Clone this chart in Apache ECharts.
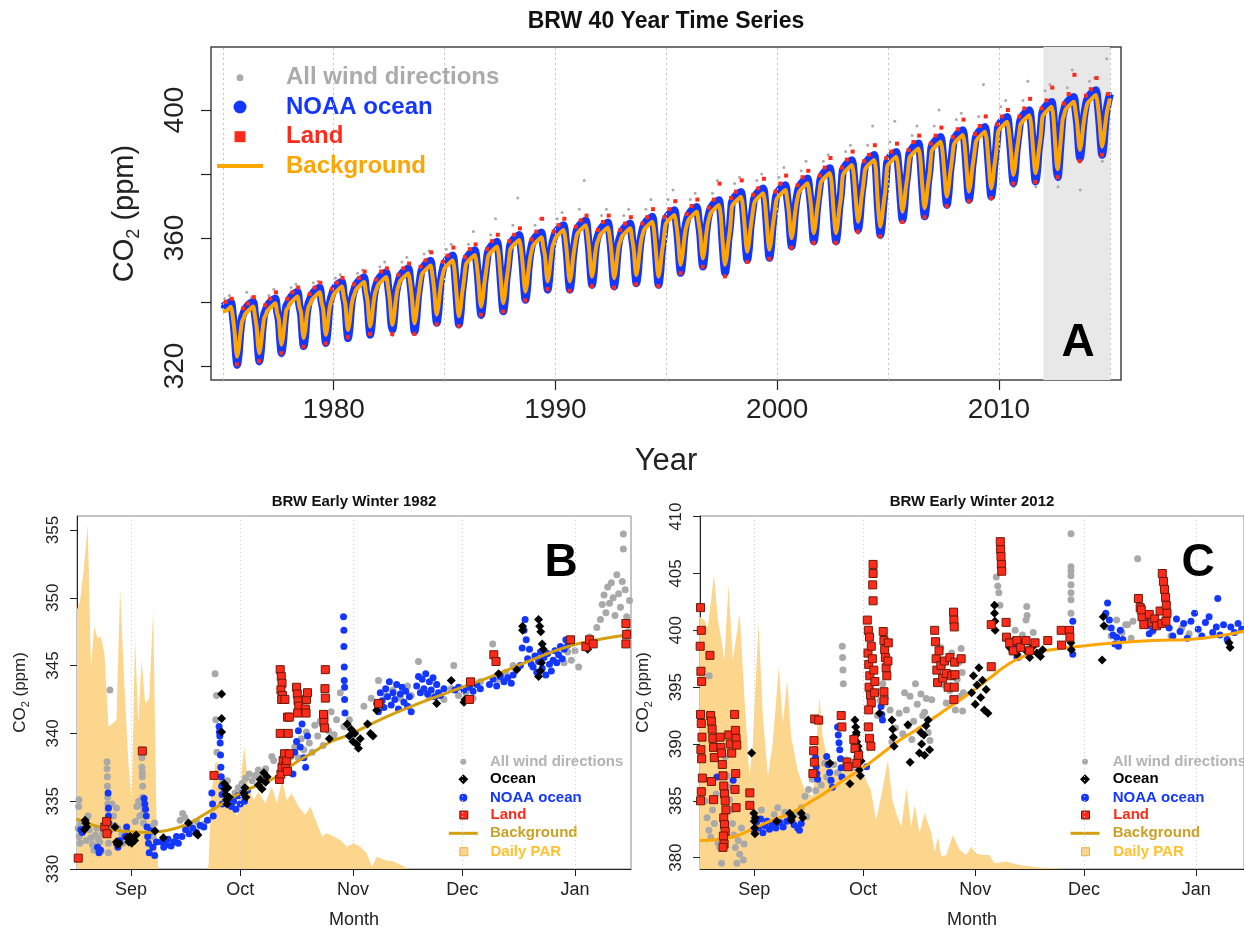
<!DOCTYPE html>
<html><head><meta charset="utf-8">
<script src="https://cdn.jsdelivr.net/npm/echarts@6/dist/echarts.min.js"></script>
<style>html,body{margin:0;padding:0;background:#fff}#c{width:1244px;height:930px}</style>
</head><body><div id="c"></div>
<script>
const FONT = "'Liberation Sans', Arial, Helvetica, sans-serif";

// ---------- Panel A: 40-year series ----------
const years = [1975,1976,1977,1978,1979,1980,1981,1982,1983,1984,1985,1986,1987,1988,1989,1990,1991,1992,1993,1994,1995,1996,1997,1998,1999,2000,2001,2002,2003,2004,2005,2006,2007,2008,2009,2010,2011,2012,2013,2014,2015];
const xTicksTop = [1980, 1990, 2000, 2010];
const xGridTop = [1975, 1980, 1985, 1990, 1995, 2000, 2005, 2010, 2015];
const yTicksTop = [320, 340, 360, 380, 400];
const yLabelsTop = [320, 360, 400];
const shadeYears = [2012, 2015];

// fraction-of-year positions of the values listed for each year
const bgPhase = [0.0, 0.17, 0.37, 0.45, 0.53, 0.6, 0.65, 0.72, 0.79, 0.87, 0.95];
const backgroundTop = [
[337.0,337.3,338.5,335.5,330.9,324.9,322.9,325.4,329.9,333.9,335.1],
[336.1,337.4,338.6,335.6,332.0,326.0,324.0,326.5,331.0,335.0,336.1],
[337.1,338.4,339.6,336.6,334.6,328.6,326.6,329.1,333.6,337.6,338.2],
[339.2,340.5,341.7,338.7,336.7,330.7,328.7,331.2,335.7,338.5,339.5],
[340.5,341.8,343.0,340.0,337.7,331.7,329.7,332.2,336.7,339.8,341.3],
[342.3,343.6,344.8,341.8,339.2,333.2,331.2,333.7,338.2,341.2,342.7],
[343.7,345.0,346.2,343.2,340.3,334.3,332.3,334.8,339.3,342.8,344.3],
[345.3,346.6,347.8,344.8,340.8,334.8,332.8,335.3,339.8,343.8,345.5],
[346.5,347.8,349.0,346.0,341.3,335.3,333.3,335.8,340.3,344.3,347.9],
[348.9,350.2,351.4,348.4,344.0,338.0,336.0,338.5,343.0,347.0,349.5],
[350.5,351.8,353.0,350.0,343.5,337.5,335.5,338.0,342.5,346.5,351.2],
[352.2,353.5,354.7,351.7,346.5,340.5,338.5,341.0,345.5,349.5,353.8],
[354.8,356.1,357.3,354.3,347.6,341.6,339.6,342.1,346.6,350.6,355.9],
[356.9,358.2,359.4,356.4,351.2,345.2,343.2,345.7,350.2,354.2,356.7],
[357.7,359.0,360.2,357.2,354.4,348.4,346.4,348.9,353.4,357.4,359.0],
[360.0,361.3,362.5,359.5,354.4,348.4,346.4,348.9,353.4,357.4,360.5],
[361.5,362.8,364.0,361.0,355.9,349.9,347.9,350.4,354.9,358.3,359.8],
[360.8,362.1,363.3,360.3,355.4,349.4,347.4,349.9,354.4,358.0,359.5],
[360.5,361.8,363.0,360.0,356.4,350.4,348.4,350.9,355.4,359.4,361.6],
[362.6,363.9,365.1,362.1,355.9,349.9,347.9,350.4,354.9,358.9,363.7],
[364.7,366.0,367.2,364.2,359.6,353.6,351.6,354.1,358.6,362.6,364.7],
[365.7,367.0,368.2,365.2,361.6,355.6,353.6,356.1,360.6,364.6,366.8],
[367.8,369.1,370.3,367.3,359.6,353.6,351.6,354.1,358.6,362.6,369.4],
[370.4,371.7,372.9,369.9,363.7,357.7,355.7,358.2,362.7,366.7,370.5],
[371.5,372.8,374.0,371.0,364.3,358.3,356.3,358.8,363.3,367.3,371.5],
[372.5,373.8,375.0,372.0,367.9,361.9,359.9,362.4,366.9,370.9,373.6],
[374.6,375.9,377.1,374.1,369.5,363.5,361.5,364.0,368.5,372.5,376.8],
[377.8,379.1,380.3,377.3,369.5,363.5,361.5,364.0,368.5,372.5,379.3],
[380.3,381.6,382.8,379.8,373.1,367.1,365.1,367.6,372.1,376.1,380.9],
[381.9,383.2,384.4,381.4,371.5,365.5,363.5,366.0,370.5,374.5,381.9],
[382.9,384.2,385.4,382.4,376.2,370.2,368.2,370.7,375.2,379.2,384.5],
[385.5,386.8,388.0,385.0,377.3,371.3,369.3,371.8,376.3,380.3,386.6],
[387.6,388.9,390.1,387.1,380.9,374.9,372.9,375.4,379.9,383.9,388.7],
[389.7,391.0,392.2,389.2,382.5,376.5,374.5,377.0,381.5,385.5,389.7],
[390.7,392.0,393.2,390.2,383.5,377.5,375.5,378.0,382.5,386.5,392.8],
[393.8,395.1,396.3,393.3,387.7,381.7,379.7,382.2,386.7,390.7,394.9],
[395.9,397.2,398.4,395.4,388.2,382.2,380.2,382.7,387.2,391.2,397.5],
[398.5,399.8,401.0,398.0,389.8,383.0,381.5,385.8,391.0,397.0,398.9],
[400.1,401.4,402.6,399.6,395.5,389.5,387.5,390.0,394.5,398.5,401.2],
[402.2,403.5,404.7,401.7,396.5,390.5,388.5,391.0,395.5,399.5,402.0],
[403.5]
];
const noaaTop = [
[338.5,339.1,340.0,336.0,330.4,323.4,320.4,323.9,330.4,335.1,336.6],
[337.6,339.2,340.1,336.1,331.5,324.5,321.5,325.0,331.5,336.2,337.6],
[338.6,340.2,341.1,337.1,334.1,327.1,324.1,327.6,334.1,338.8,339.7],
[340.7,342.3,343.2,339.2,336.2,329.2,326.2,329.7,336.2,339.7,341.0],
[342.0,343.6,344.5,340.5,337.2,330.2,327.2,330.7,337.2,341.0,342.8],
[343.8,345.4,346.3,342.3,338.7,331.7,328.7,332.2,338.7,342.4,344.2],
[345.2,346.8,347.7,343.7,339.8,332.8,329.8,333.3,339.8,344.0,345.8],
[346.8,348.4,349.3,345.3,340.3,333.3,331.3,334.8,341.3,345.0,347.0],
[348.0,349.6,350.5,346.5,340.8,333.8,330.8,334.3,340.8,345.5,349.4],
[350.4,352.0,352.9,348.9,343.5,336.5,333.5,337.0,343.5,348.2,351.0],
[352.0,353.6,354.5,350.5,343.0,336.0,333.0,336.5,343.0,347.7,352.7],
[353.7,355.3,356.2,352.2,346.0,339.0,336.0,339.5,346.0,350.7,355.3],
[356.3,357.9,358.8,354.8,347.1,340.1,337.1,340.6,347.1,351.8,357.4],
[358.4,360.0,360.9,356.9,350.7,343.7,340.7,344.2,350.7,355.4,358.2],
[359.2,360.8,361.7,357.7,353.9,346.9,343.9,347.4,353.9,358.6,360.5],
[361.5,363.1,364.0,360.0,353.9,346.9,343.9,347.4,353.9,358.6,362.0],
[363.0,364.6,365.5,361.5,355.4,348.4,345.4,348.9,355.4,359.5,361.3],
[362.3,363.9,364.8,360.8,354.9,347.9,344.9,348.4,354.9,359.2,361.0],
[362.0,363.6,364.5,360.5,355.9,348.9,345.9,349.4,355.9,360.6,363.1],
[364.1,365.7,366.6,362.6,355.4,348.4,345.4,348.9,355.4,360.1,365.2],
[366.2,367.8,368.7,364.7,359.1,352.1,349.1,352.6,359.1,363.8,366.2],
[367.2,368.8,369.7,365.7,361.1,354.1,351.1,354.6,361.1,365.8,368.3],
[369.3,370.9,371.8,367.8,359.1,352.1,349.1,352.6,359.1,363.8,370.9],
[371.9,373.5,374.4,370.4,363.2,356.2,353.2,356.7,363.2,367.9,372.0],
[373.0,374.6,375.5,371.5,363.8,356.8,353.8,357.3,363.8,368.5,373.0],
[374.0,375.6,376.5,372.5,367.4,360.4,357.4,360.9,367.4,372.1,375.1],
[376.1,377.7,378.6,374.6,369.0,362.0,359.0,362.5,369.0,373.7,378.3],
[379.3,380.9,381.8,377.8,369.0,362.0,359.0,362.5,369.0,373.7,380.8],
[381.8,383.4,384.3,380.3,372.6,365.6,362.6,366.1,372.6,377.3,382.4],
[383.4,385.0,385.9,381.9,371.0,364.0,361.0,364.5,371.0,375.7,383.4],
[384.4,386.0,386.9,382.9,375.7,368.7,365.7,369.2,375.7,380.4,386.0],
[387.0,388.6,389.5,385.5,376.8,369.8,366.8,370.3,376.8,381.5,388.1],
[389.1,390.7,391.6,387.6,380.4,373.4,370.4,373.9,380.4,385.1,390.2],
[391.2,392.8,393.7,389.7,382.0,375.0,372.0,375.5,382.0,386.7,391.2],
[392.2,393.8,394.7,390.7,383.0,376.0,373.0,376.5,383.0,387.7,394.3],
[395.3,396.9,397.8,393.8,387.2,380.2,377.2,380.7,387.2,391.9,396.4],
[397.4,399.0,399.9,395.9,387.7,380.7,377.7,381.2,387.7,392.4,399.0],
[400.0,401.6,402.5,398.5,389.3,381.5,379.0,384.3,391.5,398.2,400.4],
[401.6,403.2,404.1,400.1,395.0,388.0,385.0,388.5,395.0,399.7,402.7],
[403.7,405.3,406.2,402.2,396.0,389.0,386.0,389.5,396.0,400.7,403.5],
[405.0]
];
const grayPhase = [0.08, 0.3, 0.66, 0.86];
const allWindTop = [
[341,342,319.5,337],[343,341.5,320.5,338],[342,344,323,340],[344.5,345.5,325.5,342],[346,346.5,326.5,343.5],
[347.5,348.5,328,345],[349,350,329,346.5],[351,352.5,329.5,347],[352.5,354,330,348],[355,356,333,350],
[356.5,358,332,352.5],[358,362,335,353],[361,366,336.5,355],[364,372.5,340,358],[364,366,343,361],
[366,368,343,361.5],[369,378,344.5,362],[367,369,344,362],[367,369,345,363],[369,372,344.5,363],
[372,375,348.5,366],[372,374,350.5,368],[374,378,348.5,367],[377,379,352.5,370],[378,380,353,371],
[379,382,356.5,374],[381,384,358,376],[384,386,358,377],[387,389,361.5,380],[389,395,360,379],
[390,396.5,365,383],[392,395,366,385],[395,400,369.5,388],[397,399,371,390],[398,408,372,391],
[401,403,376,394],[403,409,376,396],[406,408,376,398],[407,412.5,375,402],[409,410,384,416]
];
const redPhase = [0.14, 0.4, 0.64, 0.92];
const landTop = [
[340,341,320.5,338],[339.5,341.5,321.5,339],[341,343,324,341],[343,344.5,326,342.5],[344.5,346,327,344],
[346,347.5,329,345.5],[347.5,349.5,330,347],[349.5,350.5,330,348.5],[350.5,352,330,351],[353,355.5,333,352.5],
[354.5,357,332.5,354],[356.5,358,336,356.5],[359,361,337,359],[361,363,340.5,359.5],[362,366,344,362],
[364,366,343.5,363.5],[365.5,367,345,362.5],[365,367,344.5,362.5],[364.5,366.5,345.5,364.5],[366.5,369,345,366.5],
[369,371.5,349,367.5],[370,372,351,369.5],[372,377,348,372.5],[374.5,378,352.5,373.5],[375.5,378.5,353.5,374.5],
[377,379.5,357,376.5],[379,381,358.5,379.5],[382,385,358.5,382],[384.5,387,362,384],[386,389,360.5,385],
[387,389.5,365,387.5],[390,392,366.5,389.5],[392,394.5,370,391.5],[394,397,371.5,392.5],[395,398,372.5,395.5],
[398,400,377,398],[400.5,403.5,377.5,400.5],[403,407,379,402],[405,411,384,404.5],[406.5,410,386,405]
];

// ---------- Panels B and C: days from 1 September ----------
const monthTicks = [0, 30, 61, 91, 122];
const monthLabels = ['Sep', 'Oct', 'Nov', 'Dec', 'Jan'];
const yTicksB = [330, 335, 340, 345, 350, 355];
const yTicksC = [380, 385, 390, 395, 400, 405, 410];

const parB = [[-15,73],[-14,76],[-13,85],[-11.9,97.5],[-11,57],[-10.1,68.6],[-9.2,65.4],[-8.3,65.8],[-7.3,61],[-6.2,40.3],[-5.1,41.2],[-4,42.2],[-3,79.5],[-1.8,51.6],[-0.7,29.9],[0.2,19.5],[1.1,65.8],[2,41.2],[2.9,59.2],[3.9,46.9],[5,48.3],[6.1,73.4],[7.1,8],[7.5,0],[21,0],[21.3,1],[22,20],[23.1,29.9],[24,30.4],[24.9,26],[26.3,23.3],[28.2,16.7],[29.3,14.8],[30,23.3],[31.1,34.7],[32.3,23.3],[33.7,19.5],[35,21.9],[36.9,18.6],[38.7,23.3],[40.1,18.6],[41.5,25.2],[42.8,19.5],[44.2,21.4],[46,17.7],[47.9,15.3],[49.3,17.7],[51.1,12.9],[52.5,9.2],[53.8,10.1],[55.7,9.2],[57.5,8.2],[59.3,6.3],[61.2,7.3],[63,6.3],[64.8,4.4],[66.2,0.7],[67.6,3.5],[69.9,2.5],[72.2,2.1],[75,0.7],[76,0],[137.5,0]];
const parC = [[-15,71.5],[-13.7,70.5],[-12.8,68.2],[-11.1,83.3],[-10,70.5],[-9.1,65.3],[-8.2,59.2],[-7.1,80.5],[-5.9,59.2],[-4,72.4],[-2.7,48.8],[-1.3,26.2],[-0.4,35.6],[1.2,69.6],[2.4,43.2],[3.8,26.2],[5.1,35.6],[6.8,57.3],[7.9,41.3],[9.1,53.5],[10.2,37.5],[12,28],[13.9,22.4],[16.2,20.5],[18,48.8],[18.9,37.5],[20.3,30.9],[23,26.2],[24.9,29.9],[26.7,28],[28.6,27.1],[30.4,26.2],[32.2,22.4],[33.6,13.9],[35,20.5],[36.9,30.9],[38.1,19.5],[39.2,15.8],[40.6,12],[42,22.9],[43.3,12],[44.3,18.1],[45.6,10.1],[47,15.8],[48.9,10.1],[49.8,4.9],[50.7,9.2],[51.6,3.5],[53,4],[54.8,9.6],[56.7,5.4],[58.5,4],[59.9,6.3],[61.2,4.4],[63.1,4],[64.9,4],[66.3,1.6],[69.5,2.1],[73.2,1.1],[77.8,0.5],[83.3,0.2],[86,0],[136,0]];

const backgroundB = [[-15,333.7],[-10,333.2],[-5,332.9],[0,332.75],[5,332.7],[10,332.85],[15,333.25],[20,334.0],[25,334.8],[30,335.6],[35,336.2],[40,336.8],[45,337.8],[50,338.6],[55,339.4],[60,339.9],[70,341.2],[80,342.3],[90,343.3],[100,344.3],[110,345.4],[120,346.4],[130,347.0],[137.5,347.3]];
const backgroundC = [[-15,381.5],[-10,381.6],[-5,381.9],[0,382.6],[5,383.3],[10,383.9],[15,384.8],[20,385.8],[25,386.9],[30,387.9],[35,389.1],[40,390.3],[45,391.3],[50,392.4],[55,393.5],[60,394.6],[65,395.8],[70,397.0],[75,397.8],[80,398.2],[90,398.6],[100,398.9],[110,399.1],[120,399.2],[130,399.6],[136,400.0]];

const allWindB = [[-14.5,333],[-14.4,334.6],[-14.3,335.1],[-14.2,332.4],[-14,331.9],[-13.8,333.4],[-13.5,332.8],[-13,333.2],[-12.3,332.1],[-11.8,333.9],[-11.5,332.9],[-11,332.3],[-10.6,331.8],[-10.2,331.4],[-9.8,332.5],[-9.4,333.0],[-9,332.2],[-8.6,332.0],[-8.2,331.3],[-7.8,332.6],
[-6.6,337.9],[-6.6,337.4],[-6.5,336.8],[-6.5,336.1],[-6.4,335.3],[-6.4,334.8],[-6.3,334.4],[-6.3,333.1],[-6.2,331.9],[-6.2,331.2],[-5.8,343.2],
[-5.2,334.8],[-4.8,333.9],[-4.4,333.2],[-4,334.5],[-3.6,333.0],[-2.5,332.6],[-2.2,331.9],[-1.6,332.3],[1.2,333.5],[1.6,334.6],[2.1,335.0],[2.4,333.9],
[2.9,338.8],[3.0,338.2],[3.0,337.5],[3.1,337.1],[3.1,336.8],[3.2,336.1],[3.2,335.3],[3.3,334.6],[3.3,334.1],[3.4,333.4],
[5.5,333.1],[6,332.4],[6.5,333.4],[7,332.0],[13.5,333.6],[14.2,334.1],[14.8,333.8],[15.6,333.3],[16.5,333.1],[18,333.5],[20,333.3],
[23.1,344.4],[23.5,342.8],[23.3,341.0],[23.6,338.6],
[25.2,336.4],[25.8,335.8],[26.5,336.5],[27.2,335.2],[28.6,335.6],[29.5,336.0],[30.5,336.3],[31.5,336.7],[32.5,337.0],[33.3,336.5],[34.2,336.9],[35,337.3],[36,336.9],[37,337.4],[38.7,338.3],[39.2,338.0],
[44,338.3],[45,339.0],[46,338.2],[46.8,339.6],[47.5,338.8],[48.2,340.1],[49,339.3],[49.8,338.6],[50.5,340.6],[51.3,339.8],[52,340.9],[52.8,339.1],[53.5,341.2],[54.3,340.2],[55,341.6],[55.8,339.9],[56.5,341.0],[57.5,343.0],
[58.5,340.5],[60,341],[64,342.0],[66,342.6],[68,343.9],[70,342.8],[72,343.2],[74,342.6],[76,343.5],[77,342.8],[79,345.3],[80,343.1],[82,342.7],[84,343.6],[86,342.5],[88,343.3],[88.7,345.0],[90,342.8],[92,343.0],[94,342.6],[96,343.8],[99.4,346.6],[101,344.0],[103,344.5],[105,345.0],
[119,345.2],[120,346.0],[121,345.4],[122,346.1],[123,344.9],[125,346.3],[126,347.1],[127,346.6],[128,347.8],[129,348.4],[129.5,349.5],[130,350.2],[130.5,348.9],[131,350.8],[131.5,349.6],[132,351.1],[132.5,350.0],[133,348.7],[133.5,351.7],[134,350.3],[134.5,349.3],[135,351.2],[135.3,354.7],[135.3,353.6],[135.8,350.6],[136.2,348.6],[136.6,347.5],[137,349.8]];
const noaaB = [[-13.8,332.9],[-13.4,332.7],[-9.2,331.6],[-8.8,331.2],[-8.4,331.4],[-6.3,335.6],[-6.2,334.5],[-6.2,333.9],[-6.1,333.4],[-6.0,332.8],
[-4,331.9],[-3.6,331.6],[-3.2,332.1],[-1.6,332.4],[-1.2,333.1],[-0.8,332.6],[-0.3,332.1],
[3.6,335.2],[3.8,334.8],[4.0,334.4],[4.2,333.9],[4.4,333.1],[4.6,332.4],[4.8,331.9],[5.0,331.2],[5.5,332.8],[6.0,331.6],[6.5,331.0],[7,332.0],
[8.4,332.0],[9,331.6],[9.6,331.8],[10.2,332.2],[11,331.7],[11.8,332.0],[12.5,332.4],[13,331.9],[14,332.4],[15,332.9],[16,332.6],[17,333.0],[18,332.7],[19,333.2],[20,333.1],[21,333.6],[22.2,335.6],[22.4,334.8],[22.6,333.9],
[24.2,340.5],[24.3,340.1],[24.4,339.8],[24.5,339.3],[24.6,338.4],[24.7,337.5],[24.8,336.8],[24.9,336.1],[25,335.5],[25.1,334.8],
[27,335.2],[27.6,334.6],[28.2,335.0],[28.8,334.4],[29.4,335.4],[30,334.8],[30.6,335.6],[31.2,335.0],[32,335.8],
[44.5,337],[45,338.6],[45.5,339.4],[46,340.2],[46.5,339.0],[47,340.7],[47.5,338.2],[48,337.5],[48.5,339.8],
[58.4,348.6],[58.5,347.6],[58.5,346.4],[58.6,344.9],[58.6,343.9],[58.7,343.4],[58.7,342.5],[58.8,341.5],
[67.5,342.2],[68,341.6],[68.5,343.0],[69,342.4],[69.5,341.9],[70,343.3],[70.5,342.7],[71,343.8],[71.5,342.1],[72,343.0],[72.5,342.5],[73,343.6],[73.5,341.8],[74,342.9],[74.5,343.4],[75,342.3],[75.5,343.1],[76,342.0],[76.5,342.7],[77,341.6],
[78.5,343.5],[79,344.2],[79.5,343.0],[80,344.0],[80.5,343.3],[81,344.4],[81.5,342.9],[82,343.8],[82.5,343.2],[83,344.1],[83.5,342.7],[84,343.6],[84.5,343.0],[85,342.8],[86,343.3],
[89,343.2],[90,343.4],[91.5,343.2],[93,343.4],[94,343.1],[95,343.6],[96,343.3],
[98.5,343.6],[99.5,344.0],[100.5,343.5],[101.5,344.2],[102.5,343.8],[103.5,344.1],[104.5,343.7],[105,344.3],
[107,345.0],[107.5,346.3],[108,347.6],[108.3,348.4],[108.6,346.9],[109,345.5],[109.5,346.2],[110,345.1],[110.5,344.9],[111,345.7],
[111.5,344.5],[112,345.3],[112.5,346.0],[113,344.8],[113.5,345.6],[114,344.3],[114.5,345.9],[115,345.1],[115.5,344.6],[116,345.4],[116.5,346.1],[117,345.2],[117.5,345.8],[118,346.4],[118.5,345.5],[119,346.2],[119.5,346.9],[120,346.5]];
const oceanB = [[-12.8,332.9],[-12.6,333.6],[-12.4,333.4],[-12.2,333.1],[-4.4,333.1],[-4.0,332.0],[-3.6,331.8],[-3.2,331.9],
[-1,332.3],[-0.6,332.0],[-0.2,332.4],[0.2,331.9],[0.6,332.2],[1,332.1],[1.4,332.5],[6.6,332.8],[8.9,332.3],[15.8,333.4],[18,332.6],[18.4,332.5],
[24.9,342.9],[24.9,341.1],[24.9,340.1],[25.6,336.3],[25.8,335.9],[26,335.5],[26.2,335.1],[26.4,334.8],[26.6,336.0],[27,335.3],
[31,335.6],[31.3,336.0],[31.6,335.3],[35,336.2],[35.5,336.6],[36,335.9],[36.5,337.1],[37,336.4],[37.4,336.8],
[54.5,339.6],[59.4,340.7],[60,339.8],[60.5,340.3],[61,339.4],[61.5,340.0],[62,339.2],[62.5,338.9],[63,339.6],[65,340.7],[65.8,340.0],[66.5,339.8],[67.5,341.7],
[84,342.2],[88,343.9],[91.5,342.3],[91.8,342.5],[101,344.4],[106,344.7],[107.6,347.9],[107.6,347.6],
[112,348.4],[112.3,347.9],[112.6,347.5],[113,346.6],[113.3,346.2],[112.8,345.2],[112.5,344.6],[112,344.2],[125.5,346.2],[126,346.5]];
const landB = [[-14.5,330.8],[-7.2,333.1],[-6.7,333.5],[-6.6,332.6],[3.1,338.7],[22.8,336.9],
[41,344.7],[41.3,344.2],[41.5,343.7],[41.2,343.2],[41.6,342.8],[41.4,342.5],[41,340.0],[42.3,342.5],[43,341.2],[43.5,341.2],[43.2,340.0],
[40.8,336.6],[41.2,337.0],[41.5,337.5],[41.8,338.0],[42.2,338.5],[42.5,337.6],[42.8,338.0],[43.5,338.5],[43,337.2],
[45.5,343.4],[45.7,342.9],[45.9,342.4],[46.1,342.0],[45.8,341.5],
[47.9,341.8],[48.2,342.5],[48.5,343.0],[48.1,341.5],[53.4,344.7],[53.3,343.3],[53.4,342.6],[52.9,341.4],[53,340.8],[53.2,340.4],
[68,342.2],[93.3,343.8],[93,342.5],[99.7,345.8],[100.3,345.3],[120.8,346.9],[125,346.4],[126,346.9],[127,346.6],[136,348.1],[136.2,347.3],[136,346.6]];

const allWindC = [[-12.4,396],[-13.5,385],[-13,383.5],[-12.5,382.4],[-12,381.8],[-11.5,384.2],[-11,383],[-10.5,385.6],[-10,381.3],[-9.5,380.9],[-9,379.5],
[-8,388.9],[-7.5,387.2],[-7,386.2],[-6.8,385.1],[-6.3,384.2],[-6,383],[-5.6,382],[-5.2,380.9],[-4.8,379.5],[-4.4,381.5],[-4,380.3],[-3.5,382.6],[-3,379.8],[-2.8,381.2],
[1,383.4],[2,384.2],[3,383.2],[4.5,382.6],[5.5,383.8],[6.5,384.4],[7.5,383.1],[8.5,384.0],[10,383.5],[11.5,383.9],[13,384.4],[14.5,383.6],[14,385.4],[15,386.0],
[16,386.9],[17,385.9],[18.5,386.4],[19.4,388.3],[20,387.1],[21.2,386.7],[22,388.2],[23,387.5],[24.3,398.6],[24.4,397.6],[24.5,396.5],[24.6,395.3],[25.5,388.6],[27,387.9],[28.3,388.8],[29.1,389.3],
[34,392.5],[34.8,393.8],[35.5,395.3],[36.3,394.1],[37.5,393.0],[38,390.2],[39,391.4],[40,392.7],[41,390.9],[41.5,394.5],[42,393.0],[42.5,391.6],[43,394.2],[43.5,390.4],[44,392.0],[44.5,395.3],[45,393.5],[45.6,391.2],[46,394.4],[47,392.8],[48,391.0],[49,393.9],
[46.5,392.5],[47.5,394.0],[48.5,390.3],[51.5,398.5],[52,396.8],[52.5,395.2],[53,393.6],[53.5,397.5],[54,394.7],[54.5,398.0],[55,396.2],[55.5,393.0],[56,395.7],[56.5,397.2],[57,394.2],[57.5,392.9],[57.1,398.4],[57.4,396.3],[57.7,394.5],
[66.8,404.7],[67.2,403.9],[67.5,403.3],[67.8,402.2],[70,399.2],[71,398.1],[72,400.0],[73,397.6],[74,399.6],[75,400.9],[76,398.5],[77,399.8],[75.2,402.1],[75.3,401.3],
[87.4,408.5],[87.4,405.6],[87.4,405.2],[87.4,404.8],[87.4,404.0],[87.4,403.3],[87.4,402.7],[87.4,401.5],
[97,400.3],[98.5,399.5],[100,400.9],[101.5,399.8],[103,400.5],[104,399.3],[105.8,406.3],[102.5,400.5],[104.5,400.8],[110,399.9],[112,400.6],[115,399.5],[118,400.2],[120,399.7]];
const noaaC = [[-10.3,387.1],[-5.8,386.8],[0,382.4],[0.6,383.0],[1.2,382.6],[1.8,383.4],[2.4,382.2],[3,382.8],[3.6,383.2],[4.2,382.5],[5,382.9],[6,382.6],[7,383.1],[8,382.7],[9,383.2],[10,383.4],[11,382.9],[12,382.6],[12.5,382.4],[13,383.0],
[16.7,389.5],[16.9,388.8],[17.1,388.0],[17.3,387.4],[17.5,386.9],[20,388.9],[20.4,388.2],[20.8,387.5],[21.2,386.8],[21.6,386.2],
[23,391.5],[23.2,390.8],[23.4,390.1],[23.6,389.5],[23.8,388.7],[24,387.9],[24.2,387.1],[31,388.0],[35,393.3],[35.2,392.6],[35.4,392.1],
[72.3,398.6],[72.5,397.6],[87.9,400.8],[87.9,397.9],
[97,401.5],[97.5,402.4],[98,400.9],[98.5,400.2],[99,399.6],[99.5,398.8],[100,399.4],[100.5,398.6],[101,400.0],[101.7,399.2],
[108,401.2],[108.5,400.4],[109,399.7],[109.5,400.9],[110,400.0],
[114.5,400.2],[115.5,399.5],[116.5,401.0],[117.5,399.9],[118.5,400.6],[119.5,399.3],[120.5,400.8],[121.5,401.5],[122.5,400.1],[123.5,399.5],[124.5,400.7],[125.5,401.2],[126.5,399.8],[127.5,400.3],[127.9,402.8],[128.5,399.6],[129.5,400.5],[130.5,399.2],[131.5,400.3],[132.5,399.8],[133.5,400.6],[134.5,400.1]];
const oceanC = [[-0.7,389.2],[-0.1,383.9],[0,383.2],[0.1,382.6],[0.2,382.1],[0.3,383.5],[6.2,383.2],[9.8,383.9],[10.2,383.3],[10.5,383.6],[13,383.9],[13.4,383.5],
[20.9,388.3],[26.4,386.5],
[27.8,392.1],[28,391.5],[28.1,390.8],[28.3,390.2],[28.5,389.5],[28.6,388.9],[28.8,388.3],[29,387.7],[29.3,387.2],[28.2,391.0],[28.7,389.8],[29.5,388.5],
[34.6,392.7],[38,392.1],[38.2,391.3],[38.4,390.6],[38.6,389.8],[42.4,391.7],[43,388.4],
[45.6,389.2],[46.2,390.0],[46.8,390.8],[47.4,391.6],[48,392.1],[48.4,389.5],[47,389.0],[46,391.0],
[60,394.5],[60.5,396.0],[61,393.5],[61.5,395.2],[62,396.7],[62.5,394.1],[63,395.6],[63.5,393.0],[64,394.8],[64.5,392.7],
[66.3,402.2],[66.3,401.5],[66.4,400.8],[66.5,400.0],[70.5,398.5],[71.5,399.1],[72.5,397.9],[73.5,398.6],
[74,398.9],[75,398.2],[76,397.6],[77,398.6],[78,398.0],[79,397.7],[79.6,398.3],[87.4,398.9],[87.5,398.3],[96,397.4],[96.3,401.2],[96.5,400.4],[131,398.9],[131.3,398.5]];
const landC = [[-14.8,402.0],[-14.6,400.0],[-14.9,398.6],[-14.7,396.4],[-14.5,395.5],[-14.8,392.6],[-14.6,391.8],[-14.4,390.6],[-14.7,389.5],[-14.5,388.7],[-14.3,387.0],[-14.6,385.8],[-14.8,385.0],
[-12.2,397.8],[-12,392.5],[-11.8,392.0],[-11.6,391.3],[-11.4,390.5],[-11.2,389.7],[-11,388.8],[-11.8,386.7],[-11.2,385.1],
[-9.4,390.6],[-9.2,389.7],[-9,389.2],[-8.8,388.2],[-8.6,387.2],[-8.4,386.3],[-8.2,385.6],[-8,385.0],[-7.8,384.2],[-8.4,383.5],[-8.2,382.9],[-8,382.3],[-8.5,381.9],[-8.3,381.2],[-8.6,380.9],
[-7,390.8],[-6.6,390.0],[-6.2,389.2],[-5.4,392.6],[-5.2,391.2],[-5,390.5],[-4.8,389.9],[-5.1,387.4],[-5.3,386.0],[-5,384.4],[-1.2,385.7],[-1.2,384.6],
[16.7,392.2],[17.8,392.1],[16.5,390.3],[16.4,389.4],[16.6,388.4],[16.2,387.4],[24,392.5],[24.2,391.5],[25.6,388.4],[25.9,388.0],[27.5,390.4],[27.8,389.6],[28.3,388.3],[28.8,389.0],
[31.2,400.9],[31.5,400.0],[31.8,399.4],[31.4,398.0],[31.6,397.0],[31.9,396.0],[31.7,395.0],[32.1,394.3],[32.3,393.6],[31.6,393.0],[32.8,405.8],[32.8,405.0],[32.7,404.0],[32.8,402.6],[32.3,398.6],[32.6,397.5],[33,396.5],[33.3,395.5],[33.2,394.5],[31.5,391.5],[31.8,390.5],[32.2,389.8],
[35.6,399.9],[35.8,399.1],[36,398.3],[36.2,397.6],[36.4,396.7],[36.6,396.0],[35.8,394.6],[35.8,393.8],[37,398.9],[36.9,397.3],
[49.8,400.0],[50,399.0],[50.2,397.5],[50.4,396.5],[50.6,395.4],[51,398.2],[51.5,396.9],[52,395.8],[52.5,397.3],[53,396.2],[53.5,395.0],[54,397.6],[54.5,396.0],[55,401.6],[55.1,400.9],[55.2,400.3],[55.3,397.2],[55.4,396.1],[55.2,395.0],[55.1,393.9],[57.1,397.5],
[65.4,400.5],[65.4,396.8],[67.9,407.8],[68,407.1],[68.1,406.5],[68.2,405.8],[68.3,405.2],[69.5,400.7],[69.6,399.4],[70.5,398.9],[71.5,398.2],[72.5,399.1],[73.5,398.5],[75,399.1],[76,398.2],[77.5,398.9],
[81,399.1],[84.7,400.0],[84.8,398.7],[87,400.0],[87.1,399.4],[106,402.8],[106.5,402.0],[107,401.2],[107.5,400.5],[106.8,401.8],[109,401.4],[109.8,400.7],[110.5,401.0],[111,400.4],[112,401.7],[112.5,400.6],
[112.6,405.0],[112.9,404.3],[113.2,403.6],[113.5,402.9],[113.7,402.2],[113.9,401.5],[113.6,400.8]];

// ---------- build ----------
function seasonal(rows, phases) {
  const out = [];
  rows.forEach((row, i) => row.forEach((v, j) => out.push([years[i] + phases[j], v])));
  return out;
}
const C_GRAY = '#ABABAB', C_BLUE = '#1437FF', C_RED = '#FF2A1A', C_ORANGE = '#FFA500', C_GOLD = '#D4A00F', C_PAR = '#FDD68E';

function legendItem(name, icon, w, h, cx, cy, tx, fs, color, extra) {
  const left = cx - w / 2;
  const d = Object.assign({ name: name, icon: icon, textStyle: { color: color } }, extra || {});
  return {
    show: true, padding: 0, itemGap: 0, selectedMode: false,
    left: left, top: cy - fs / 2, itemWidth: w, itemHeight: h,
    data: [d],
    textStyle: { fontSize: fs, fontWeight: 'bold', fontFamily: FONT, color: color, padding: [0, 0, 0, tx - left - w - 5] }
  };
}
const legRows = [761.7, 779.3, 797.7, 815, 833.3, 851.7];
function bottomLegends(cx, tx) {
  return [
    legendItem('All wind directions', 'circle', 6, 6, cx, legRows[0], tx, 15, '#B3B3B3', { itemStyle: { color: '#A9A9A9', opacity: 1 } }),
    legendItem('Ocean', 'diamond', 10, 10, cx, legRows[1], tx, 15, '#000000', { itemStyle: { color: '#000', opacity: 1 } }),
    legendItem('NOAA ocean', 'circle', 8, 8, cx, legRows[2], tx, 15, C_BLUE, { itemStyle: { color: C_BLUE, opacity: 1 } }),
    legendItem('Land', 'rect', 8, 8, cx, legRows[3], tx, 15, C_RED, { itemStyle: { color: C_RED, borderColor: '#6B1A08', borderWidth: 1, opacity: 1 } }),
    legendItem('Background', 'rect', 29, 3, cx, legRows[4], tx, 15, '#C9A227', { itemStyle: { color: C_GOLD, borderWidth: 0 } }),
    legendItem('Daily PAR', 'rect', 8, 8, cx, legRows[5], tx, 15, '#FFC12E', { itemStyle: { color: C_PAR, borderColor: '#F4B040', borderWidth: 1 } })
  ];
}

const axisTxt = { color: '#222', fontFamily: FONT };
function co2Name(fs, sfs, lh) {
  return { name: '{a|CO}{s|2}{a| (ppm)}', nameLocation: 'middle',
    nameTextStyle: { rich: { a: Object.assign({ fontSize: fs, lineHeight: lh }, axisTxt), s: Object.assign({ fontSize: sfs, lineHeight: sfs, verticalAlign: 'bottom' }, axisTxt) } } };
}
function monthAxis(grid, min, max) {
  return { type: 'value', gridIndex: grid, min: min, max: max,
    axisLine: { show: true, onZero: false, lineStyle: { color: '#222', width: 1 } }, splitLine: { show: false },
    axisTick: { show: true, length: 7, customValues: monthTicks, lineStyle: { color: '#222' } },
    axisLabel: Object.assign({ customValues: monthTicks, fontSize: 18, margin: 12, formatter: v => monthLabels[monthTicks.indexOf(Math.round(v))] || '' }, axisTxt),
    name: 'Month', nameLocation: 'middle', nameGap: 42, nameTextStyle: Object.assign({ fontSize: 18 }, axisTxt) };
}
function co2Axis(grid, min, max, ticks) {
  return Object.assign({ type: 'value', gridIndex: grid, min: min, max: max,
    axisLine: { show: true, onZero: false, lineStyle: { color: '#222', width: 1 } }, splitLine: { show: false },
    axisTick: { show: true, length: 7, customValues: ticks, lineStyle: { color: '#222' } },
    axisLabel: Object.assign({ customValues: ticks, rotate: 90, fontSize: 17, margin: 15 }, axisTxt),
    nameGap: 46 }, co2Name(17, 11, 21));
}
const monthLines = { silent: true, symbol: ['none', 'none'], label: { show: false }, animation: false,
  lineStyle: { color: '#CFCFCF', type: [1, 3], width: 1 }, data: monthTicks.map(v => ({ xAxis: v })) };

function panelSeries(xi, yi, pi, par, gray, noaa, bg, bgColor, ocean, land) {
  return [
    { name: 'Daily PAR', type: 'line', xAxisIndex: xi, yAxisIndex: pi, data: par, symbol: 'none', color: C_PAR,
      lineStyle: { width: 0 }, areaStyle: { color: C_PAR, opacity: 1 }, z: 1, markLine: monthLines },
    { name: 'All wind directions', type: 'scatter', xAxisIndex: xi, yAxisIndex: yi, data: gray, symbolSize: 7, itemStyle: { color: '#A9A9A9', opacity: 1 }, z: 2 },
    { name: 'NOAA ocean', type: 'scatter', xAxisIndex: xi, yAxisIndex: yi, data: noaa, symbolSize: 7, itemStyle: { color: C_BLUE, opacity: 1 }, z: 3 },
    { name: 'Background', type: 'line', xAxisIndex: xi, yAxisIndex: yi, data: bg, smooth: true, symbol: 'none', color: bgColor, lineStyle: { width: 3, color: bgColor }, z: 4 },
    { name: 'Ocean', type: 'scatter', xAxisIndex: xi, yAxisIndex: yi, data: ocean, symbol: 'diamond', symbolSize: 9, itemStyle: { color: '#000', opacity: 1 }, z: 5 },
    { name: 'Land', type: 'scatter', xAxisIndex: xi, yAxisIndex: yi, data: land, symbol: 'rect', symbolSize: 8, itemStyle: { color: C_RED, borderColor: '#6B1A08', borderWidth: 1, opacity: 1 }, z: 6 }
  ];
}

const option = {
  animation: false,
  backgroundColor: '#ffffff',
  textStyle: { fontFamily: FONT },
  grid: [
    { left: 211, top: 47, width: 910, height: 333, show: true, borderColor: '#444', borderWidth: 1.5, backgroundColor: 'transparent' },
    { left: 77, top: 516, width: 554, height: 353, show: true, borderColor: '#8A8A8A', borderWidth: 1, backgroundColor: 'transparent' },
    { left: 700, top: 516, width: 545, height: 353, show: true, borderColor: '#8A8A8A', borderWidth: 1, backgroundColor: 'transparent' }
  ],
  xAxis: [
    { type: 'value', gridIndex: 0, min: 1974.47, max: 2015.5, axisLine: { show: false, onZero: false }, splitLine: { show: false },
      axisTick: { show: true, length: 10, customValues: xTicksTop, lineStyle: { color: '#222', width: 1.2 } },
      axisLabel: Object.assign({ customValues: xTicksTop, fontSize: 28, margin: 16, formatter: v => String(Math.round(v)) }, axisTxt),
      name: 'Year', nameLocation: 'middle', nameGap: 66, nameTextStyle: Object.assign({ fontSize: 31 }, axisTxt) },
    monthAxis(1, -14.84, 137.4),
    monthAxis(2, -14.95, 135.14)
  ],
  yAxis: [
    Object.assign({ type: 'value', gridIndex: 0, min: 315.6, max: 419.7, axisLine: { show: false, onZero: false }, splitLine: { show: false },
      axisTick: { show: true, length: 10, customValues: yTicksTop, lineStyle: { color: '#222', width: 1.2 } },
      axisLabel: Object.assign({ customValues: yLabelsTop, rotate: 90, fontSize: 28, margin: 22 }, axisTxt),
      nameGap: 68 }, co2Name(29, 18, 36)),
    co2Axis(1, 330, 356.03, yTicksB),
    co2Axis(2, 379.0, 410.06, yTicksC),
    { type: 'value', gridIndex: 1, min: 0, max: 100, show: false },
    { type: 'value', gridIndex: 2, min: 0, max: 100, show: false }
  ],
  legend: [
    legendItem('All wind directions', 'circle', 7, 7, 240, 77.7, 286, 24, C_GRAY, { itemStyle: { color: C_GRAY, opacity: 1 } }),
    legendItem('NOAA ocean', 'circle', 13, 13, 240, 107, 286, 24, C_BLUE, { itemStyle: { color: C_BLUE, opacity: 1 } }),
    legendItem('Land', 'rect', 11, 11, 240, 136.7, 286, 24, C_RED, { itemStyle: { color: C_RED, borderWidth: 0, opacity: 1 } }),
    legendItem('Background', 'rect', 46, 4, 240, 166, 286, 24, C_ORANGE, { itemStyle: { color: C_ORANGE, borderWidth: 0 } })
  ].concat(bottomLegends(463.3, 490)).concat(bottomLegends(1085, 1112.7)),
  graphic: [
    { type: 'text', x: 666, y: 22, style: { text: 'BRW 40 Year Time Series', fontSize: 23, fontWeight: 'bold', fontFamily: FONT, fill: '#111', align: 'center', verticalAlign: 'middle' } },
    { type: 'text', x: 354, y: 502, style: { text: 'BRW Early Winter 1982', fontSize: 15, fontWeight: 'bold', fontFamily: FONT, fill: '#111', align: 'center', verticalAlign: 'middle' } },
    { type: 'text', x: 972, y: 502, style: { text: 'BRW Early Winter 2012', fontSize: 15, fontWeight: 'bold', fontFamily: FONT, fill: '#111', align: 'center', verticalAlign: 'middle' } },
    { type: 'text', x: 1078, y: 343, z: 50, style: { text: 'A', fontSize: 46, fontWeight: 'bold', fontFamily: FONT, fill: '#000', align: 'center', verticalAlign: 'middle' } },
    { type: 'text', x: 561, y: 563, z: 50, style: { text: 'B', fontSize: 46, fontWeight: 'bold', fontFamily: FONT, fill: '#000', align: 'center', verticalAlign: 'middle' } },
    { type: 'text', x: 1198, y: 563, z: 50, style: { text: 'C', fontSize: 46, fontWeight: 'bold', fontFamily: FONT, fill: '#000', align: 'center', verticalAlign: 'middle' } }
  ],
  series: [
    { name: 'All wind directions', type: 'scatter', xAxisIndex: 0, yAxisIndex: 0, data: seasonal(allWindTop, grayPhase), symbolSize: 3, itemStyle: { color: C_GRAY, opacity: 1 }, z: 2,
      markArea: { silent: true, itemStyle: { color: '#E8E8E8' }, data: [[{ xAxis: shadeYears[0] }, { xAxis: shadeYears[1] }]] },
      markLine: { silent: true, symbol: ['none', 'none'], label: { show: false }, lineStyle: { color: '#C4C4C4', type: [2, 3], width: 1 }, data: xGridTop.map(v => ({ xAxis: v })) } },
    { name: 'NOAA ocean', type: 'line', xAxisIndex: 0, yAxisIndex: 0, data: seasonal(noaaTop, bgPhase), smooth: 0.2, symbol: 'circle', symbolSize: 4, showSymbol: true,
      color: C_BLUE, itemStyle: { color: C_BLUE, opacity: 1 }, lineStyle: { width: 8, color: C_BLUE }, z: 3 },
    { name: 'Land', type: 'scatter', xAxisIndex: 0, yAxisIndex: 0, data: seasonal(landTop, redPhase), symbol: 'rect', symbolSize: 4, itemStyle: { color: C_RED, opacity: 1 }, z: 4 },
    { name: 'Background', type: 'line', xAxisIndex: 0, yAxisIndex: 0, data: seasonal(backgroundTop, bgPhase), smooth: 0.2, symbol: 'none', color: C_ORANGE, lineStyle: { width: 4, color: C_ORANGE }, z: 5 }
  ].concat(panelSeries(1, 1, 3, parB, allWindB, noaaB, backgroundB, C_GOLD, oceanB, landB))
   .concat(panelSeries(2, 2, 4, parC, allWindC, noaaC, backgroundC, C_ORANGE, oceanC, landC))
};

const chart = echarts.init(document.getElementById('c'), null, { renderer: 'canvas' });
chart.setOption(option);
</script>
</body></html>
